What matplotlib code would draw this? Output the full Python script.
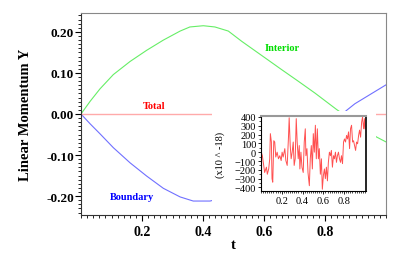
#!/usr/bin/env python3
# -*- coding: utf-8 -*-
import numpy as np
import matplotlib
matplotlib.use("Agg")
import matplotlib.pyplot as plt
from matplotlib.ticker import MultipleLocator

plt.rcParams['font.family'] = ['Liberation Serif', 'DejaVu Serif']

# main curves
t_int = [0.0, 0.03, 0.062, 0.106, 0.161, 0.215, 0.270, 0.325, 0.357, 0.401, 0.439,
         0.483, 0.527, 0.603, 0.658, 0.712, 0.767, 0.838, 0.969, 1.0]
interior = [0.0, 0.031, 0.061, 0.096, 0.128, 0.155, 0.180, 0.202, 0.212, 0.215, 0.212,
            0.202, 0.177, 0.137, 0.108, 0.080, 0.051, 0.011, -0.056, -0.068]
t_bnd = [0.0, 0.03, 0.062, 0.106, 0.161, 0.215, 0.270, 0.325, 0.368, 0.423,
         0.489, 0.603, 0.712, 0.838, 0.871, 0.898, 1.0]
boundary = [0.0, -0.024, -0.048, -0.082, -0.119, -0.151, -0.181, -0.202, -0.212, -0.212,
            -0.200, -0.140, -0.083, -0.012, 0.009, 0.025, 0.071]
t_tot = [0.0, 1.0]
total = [0.0, 0.0]

# inset: total momentum, units of 1e-18
t_err = [0.000, 0.013, 0.026, 0.035, 0.052, 0.061, 0.074, 0.084, 0.090, 0.100,
         0.106, 0.113, 0.123, 0.132, 0.142, 0.155, 0.168, 0.181, 0.194, 0.203,
         0.213, 0.229, 0.239, 0.252, 0.265, 0.271, 0.281, 0.290, 0.300, 0.310,
         0.319, 0.329, 0.339, 0.348, 0.358, 0.368, 0.374, 0.384, 0.394, 0.406,
         0.416, 0.426, 0.432, 0.442, 0.452, 0.465, 0.474, 0.484, 0.494, 0.503,
         0.513, 0.523, 0.532, 0.542, 0.552, 0.561, 0.571, 0.581, 0.590, 0.600,
         0.610, 0.619, 0.629, 0.639, 0.648, 0.658, 0.668, 0.677, 0.687, 0.697,
         0.706, 0.716, 0.726, 0.735, 0.745, 0.755, 0.765, 0.774, 0.784, 0.794,
         0.803, 0.813, 0.823, 0.832, 0.842, 0.852, 0.861, 0.871, 0.881, 0.890,
         0.900, 0.910, 0.919, 0.929, 0.939, 0.948, 0.958, 0.968, 0.977, 0.987,
         0.997, 1.000]
err = [10, -40, -150, -230, -170, -250, -190, -75, 210, 115,
       -300, -340, 130, 115, -55, 0, -75, -40, -95, 0,
       -55, 40, -95, -150, 190, 390, 75, -75, 0, 115,
       -150, -75, 380, 115, -75, 75, -190, 0, -170, -230,
       115, 265, -40, 40, -230, -380, -75, 75, -190, 210,
       0, 305, -75, 265, -75, 40, -250, -75, -420, -265,
       -190, -300, -170, -325, -115, 0, -40, 20, -170, -40,
       -75, 0, -115, -40, 0, -75, -115, -40, -130, 115,
       150, 115, 190, 150, 230, 40, 265, 305, 115, 130,
       75, 20, 115, 95, 190, 250, 170, 340, 400, 265,
       380, 265]

W, H = 407, 255
fig = plt.figure(figsize=(W / 100, H / 100), dpi=100)
ax = fig.add_axes([81 / W, 1 - 216 / H, 305 / W, 202 / H])

ax.plot(t_int, interior, color='#66ee66', lw=0.8)
ax.plot(t_bnd, boundary, color='#7070ff', lw=0.8)
ax.plot(t_tot, total, color='#ffaaaa', lw=1.0)

ax.set_xlim(0, 1)
ax.set_ylim(-0.246, 0.246)
ax.set_xticks([0.2, 0.4, 0.6, 0.8])
ax.set_xticklabels(['0.2', '0.4', '0.6', '0.8'])
ax.set_yticks([-0.2, -0.1, 0.0, 0.1, 0.2])
ax.set_yticklabels(['-0.20', '-0.10', '0.00', '0.10', '0.20'])
ax.xaxis.set_minor_locator(MultipleLocator(0.02))
ax.yaxis.set_minor_locator(MultipleLocator(0.01))
ax.tick_params(which='major', length=4, width=0.8, labelsize=9.5, pad=1)
ax.tick_params(axis='x', which='major', labelsize=10, pad=3)
ax.tick_params(which='minor', length=2, width=0.6)
for lab in ax.get_xticklabels() + ax.get_yticklabels():
    lab.set_fontweight('bold')
for s in ['top', 'right']:
    ax.spines[s].set_color('#888888')
for s in ['left', 'bottom']:
    ax.spines[s].set_color('#333333')

ax.set_ylabel('Linear Momentum Y', fontsize=10.5, fontweight='bold', labelpad=10)
ax.set_xlabel('t', fontsize=10.5, fontweight='bold', labelpad=0)

ax.text(0.24, 0.02, 'Total', color='#ff0000', fontsize=7.5, fontweight='bold', ha='center', va='center')
ax.text(0.66, 0.163, 'Interior', color='#00dd00', fontsize=7.5, fontweight='bold', ha='center', va='center')
ax.text(0.167, -0.202, 'Boundary', color='#0000ff', fontsize=7.5, fontweight='bold', ha='center', va='center')

# white box behind the inset
bg = fig.add_axes([212 / W, 1 - 210 / H, 164 / W, 98 / H])
bg.set_facecolor('white')
bg.set_xticks([])
bg.set_yticks([])
for s in bg.spines.values():
    s.set_visible(False)

ins = fig.add_axes([261 / W, 1 - 192 / H, 105 / W, 75 / H])
ins.plot(t_err, err, color='#ff5050', lw=0.7)
ins.set_xlim(0, 1.01)
ins.set_ylim(-440, 410)
ins.set_xticks([0.2, 0.4, 0.6, 0.8])
ins.set_xticklabels(['0.2', '0.4', '0.6', '0.8'])
ins.set_yticks(np.arange(-400, 401, 100))
ins.xaxis.set_minor_locator(MultipleLocator(0.02))
ins.yaxis.set_minor_locator(MultipleLocator(50))
ins.tick_params(which='major', length=2.5, width=0.6, labelsize=7.5, pad=1)
ins.tick_params(which='minor', length=1.2, width=0.5)
ins.spines['top'].set_color('#999999')
ins.spines['top'].set_linewidth(1.5)
ins.spines['right'].set_linewidth(1.2)
ins.set_ylabel('(x10 ^ -18)', fontsize=7.5, labelpad=7)

fig.savefig('out.png', dpi=100)
